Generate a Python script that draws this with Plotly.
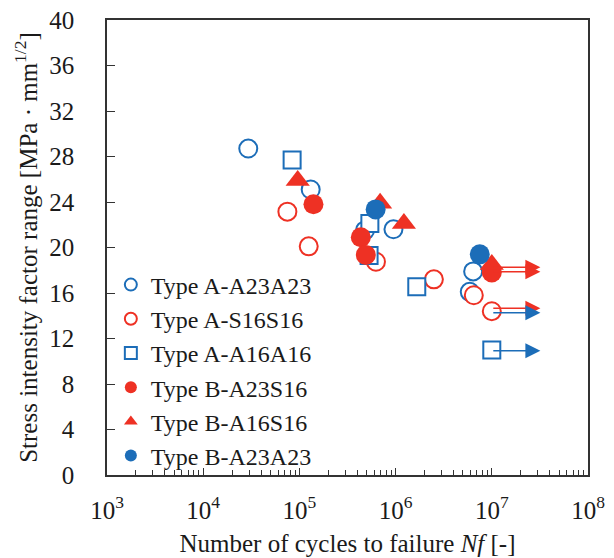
import numpy as np
import plotly.graph_objects as go

BLUE = "#1c6db8"
RED = "#ee3124"

# ---- data (cycles to failure, stress intensity factor range) ----
a_a23a23_x = [2.94e4, 1.31e5, 4.8e5, 9.5e5, 6.4e6, 5.9e6]
a_a23a23_y = [28.7, 25.1, 21.5, 21.6, 17.9, 16.1]

a_s16s16_x = [7.5e4, 1.25e5, 6.25e5, 2.5e6, 6.5e6, 1.0e7]
a_s16s16_y = [23.15, 20.1, 18.75, 17.2, 15.8, 14.4]

a_a16a16_x = [8.4e4, 5.4e5, 5.3e5, 1.66e6, 1.0e7]
a_a16a16_y = [27.7, 22.1, 19.3, 16.55, 11.0]

b_a23s16_x = [1.4e5, 4.35e5, 4.9e5, 1.0e7]
b_a23s16_y = [23.8, 20.9, 19.35, 17.8]

b_a16s16_x = [9.6e4, 6.9e5, 1.22e6, 1.0e7]
b_a16s16_y = [25.9, 23.9, 22.1, 18.5]

b_a23a23_x = [6.2e5, 7.5e6]
b_a23a23_y = [23.35, 19.4]

# run-out arrows (start cycles, end cycles, level, colour)
arrow_start = [1.0e7, 1.0e7, 1.0e7, 1.0e7, 1.0e7]
arrow_end = [3.2e7, 3.2e7, 3.2e7, 3.2e7, 3.2e7]
arrow_y = [18.26, 17.87, 14.65, 14.27, 10.93]
arrow_color = [RED, RED, RED, BLUE, BLUE]

# axis ticks
x_tickvals = [1e3, 1e4, 1e5, 1e6, 1e7, 1e8]
x_ticktext = ["10<sup>3</sup>", "10<sup>4</sup>", "10<sup>5</sup>",
              "10<sup>6</sup>", "10<sup>7</sup>", "10<sup>8</sup>"]
x_minor = [m * 10.0 ** e for e in range(3, 8) for m in range(2, 10)]
y_tickvals = list(range(0, 41, 4))

series = [
    ("Type A-A23A23", a_a23a23_x, a_a23a23_y, "circle-open", BLUE, 18),
    ("Type A-S16S16", a_s16s16_x, a_s16s16_y, "circle-open", RED, 18),
    ("Type A-A16A16", a_a16a16_x, a_a16a16_y, "square-open", BLUE, 17),
    ("Type B-A23S16", b_a23s16_x, b_a23s16_y, "circle", RED, 20),
    ("Type B-A16S16", b_a16s16_x, b_a16s16_y, "triangle-up", RED, 21),
    ("Type B-A23A23", b_a23a23_x, b_a23a23_y, "circle", BLUE, 20),
]

fig = go.Figure()
for name, xs, ys, sym, col, sz in series:
    if sym.endswith("-open"):
        marker = dict(symbol=sym.replace("-open", ""), size=sz, color="white",
                      line=dict(color=col, width=2))
    else:
        marker = dict(symbol=sym, size=sz, color=col, line=dict(width=0))
    fig.add_trace(go.Scatter(x=xs, y=ys, mode="markers", name=name,
                             marker=marker))

for xs, xe, y, c in zip(arrow_start, arrow_end, arrow_y, arrow_color):
    fig.add_annotation(x=np.log10(xe), y=y, ax=np.log10(xs), ay=y,
                       xref="x", yref="y", axref="x", ayref="y",
                       showarrow=True, arrowhead=2, arrowsize=2.0,
                       arrowwidth=1.5, arrowcolor=c, text="")

fig.update_layout(
    width=614, height=558,
    margin=dict(l=107, r=26, t=20, b=83, pad=0),
    paper_bgcolor="white", plot_bgcolor="white",
    font=dict(family="Liberation Serif", size=25, color="#1a1a1a"),
    showlegend=True,
    legend=dict(x=0.008, y=0.467, xanchor="left", yanchor="top",
                bgcolor="rgba(0,0,0,0)",
                font=dict(size=24), itemsizing="constant"),
)
fig.update_xaxes(
    type="log", range=[3, 8], automargin=False,
    tickmode="array", tickvals=x_tickvals, ticktext=x_ticktext,
    ticks="inside", ticklen=7, tickwidth=1, tickcolor="#333",
    minor=dict(tickmode="array", tickvals=x_minor, ticks="inside",
               ticklen=5, tickwidth=1, tickcolor="#333", showgrid=False),
    showline=True, linecolor="#333", linewidth=1.5, mirror=True,
    showgrid=False, zeroline=False, ticklabelstandoff=12,
    title=dict(text="Number of cycles to failure <i>Nf</i> [-]",
               font=dict(size=25), standoff=12),
)
fig.update_yaxes(
    range=[0, 40], tickmode="array", tickvals=y_tickvals, automargin=False,
    ticks="inside", ticklen=8, tickwidth=1, tickcolor="#333",
    showline=True, linecolor="#333", linewidth=1.5, mirror=True,
    showgrid=False, zeroline=False, ticklabelstandoff=26,
    title=dict(text="Stress intensity factor range [MPa · mm<sup>1/2</sup>]",
               font=dict(size=25), standoff=5),
)

fig.write_html("out.html",
               config={"displayModeBar": False},
               post_script="document.body.style.margin='0';"
                           "document.body.style.overflow='hidden';")
